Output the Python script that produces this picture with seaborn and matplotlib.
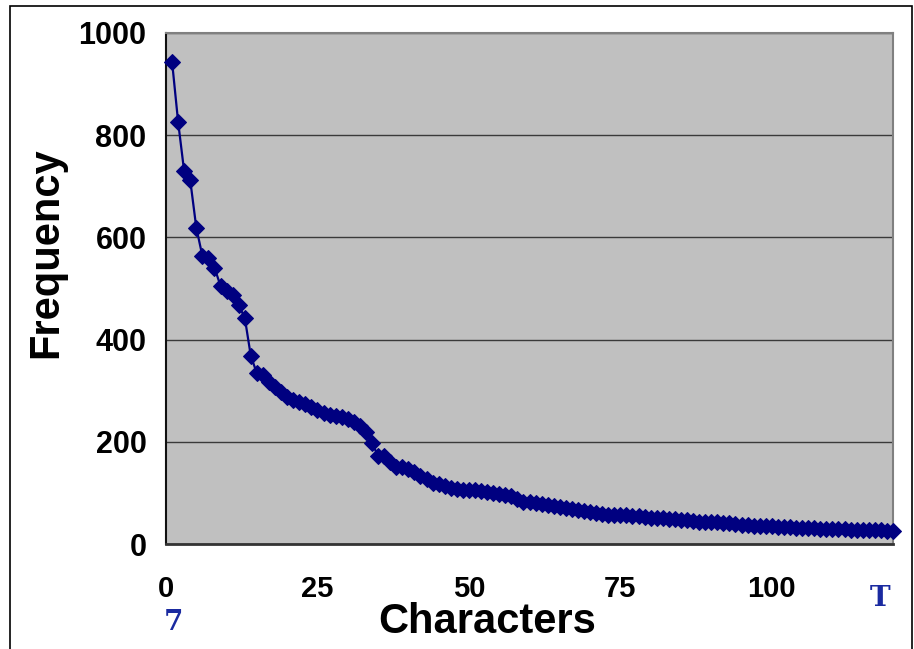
import matplotlib
matplotlib.use("Agg")
import matplotlib.pyplot as plt
import seaborn as sns
import pandas as pd
from matplotlib.ticker import MultipleLocator
from matplotlib.patches import Rectangle

rank = list(range(1, 121))
frequency = [
    944, 826, 729, 712, 619, 564, 560, 541, 505, 495,
    488, 467, 443, 368, 334, 330, 318, 308, 298, 287,
    282, 277, 273, 268, 262, 256, 252, 251, 249, 245,
    238, 231, 220, 197, 173, 172, 160, 150, 150, 146,
    140, 134, 128, 120, 118, 114, 110, 107, 106, 106,
    105, 103, 102, 100, 98, 96, 94, 88, 83, 82,
    81, 79, 77, 74, 72, 70, 68, 66, 64, 62,
    60, 59, 57, 56, 56, 56, 55, 54, 52, 51,
    50, 50, 49, 48, 47, 46, 45, 44, 44, 43,
    43, 42, 41, 39, 38, 37, 36, 36, 35, 35,
    34, 33, 33, 32, 32, 31, 31, 30, 30, 30,
    29, 29, 28, 28, 28, 27, 27, 27, 26, 26,
]
x_ticks = [0, 25, 50, 75, 100]
y_ticks = [0, 200, 400, 600, 800, 1000]

df = pd.DataFrame({"Characters": rank, "Frequency": frequency})

sns.set_style("white")
plt.rcParams["font.family"] = ["Liberation Sans", "DejaVu Sans"]
plt.rcParams["text.color"] = "black"
plt.rcParams["xtick.labelcolor"] = "black"
plt.rcParams["ytick.labelcolor"] = "black"

fig = plt.figure(figsize=(9.14, 6.49), dpi=100)
ax = fig.add_axes([166 / 914, 1 - 544 / 649, (893 - 166) / 914, (544 - 33) / 649])
ax.set_facecolor("#C0C0C0")

sns.lineplot(data=df, x="Characters", y="Frequency", ax=ax, color="#000080",
             linewidth=1.6, marker="D", markersize=8.5, markeredgecolor="#000080",
             clip_on=False, zorder=3)

ax.set_xlim(0, 120)
ax.set_ylim(0, 1000)
ax.set_xticks(x_ticks)
ax.set_yticks(y_ticks)
ax.xaxis.set_minor_locator(MultipleLocator(5))
ax.yaxis.grid(True, color="#3a3a3a", linewidth=1.0)
ax.set_axisbelow(True)

ax.tick_params(axis="y", direction="out", length=8, width=1.2, color="#333333",
               labelsize=22, pad=6, labelcolor="black")
ax.tick_params(axis="x", which="major", direction="in", length=8, width=1.4,
               color="#222222", labelsize=21, pad=22, labelcolor="black")
ax.tick_params(axis="x", which="minor", direction="in", length=5, width=1.2,
               color="#222222")
for lbl in ax.get_xticklabels() + ax.get_yticklabels():
    lbl.set_fontweight("bold")

ax.set_xlabel("")
ax.set_ylabel("")
for side in ("top", "right"):
    ax.spines[side].set_color("#808080")
    ax.spines[side].set_linewidth(1.5)
ax.spines["left"].set_color("#111111")
ax.spines["left"].set_linewidth(1.5)
ax.spines["bottom"].set_color("#333333")
ax.spines["bottom"].set_linewidth(2)

fig.text(46 / 914, 1 - 253 / 649, "Frequency", rotation=90, fontsize=30,
         fontweight="bold", ha="center", va="center", color="black")
fig.text(487 / 914, 1 - 622 / 649, "Characters", fontsize=30,
         fontweight="bold", ha="center", va="center", color="black")

fig.text(173 / 914, 1 - 622 / 649, "7", fontsize=20, fontweight="bold",
         color="#1a2aa0", family="DejaVu Serif", ha="center", va="center")
fig.text(880 / 914, 1 - 598 / 649, "T", fontsize=20, fontweight="bold",
         color="#1a2aa0", family="DejaVu Serif", ha="center", va="center")

fig.patches.append(Rectangle((10 / 914, -0.05), (912 - 10) / 914, 1 - 6 / 649 + 0.05,
                             transform=fig.transFigure, fill=False,
                             edgecolor="black", linewidth=1.2))

fig.savefig("out.png", dpi=100)
